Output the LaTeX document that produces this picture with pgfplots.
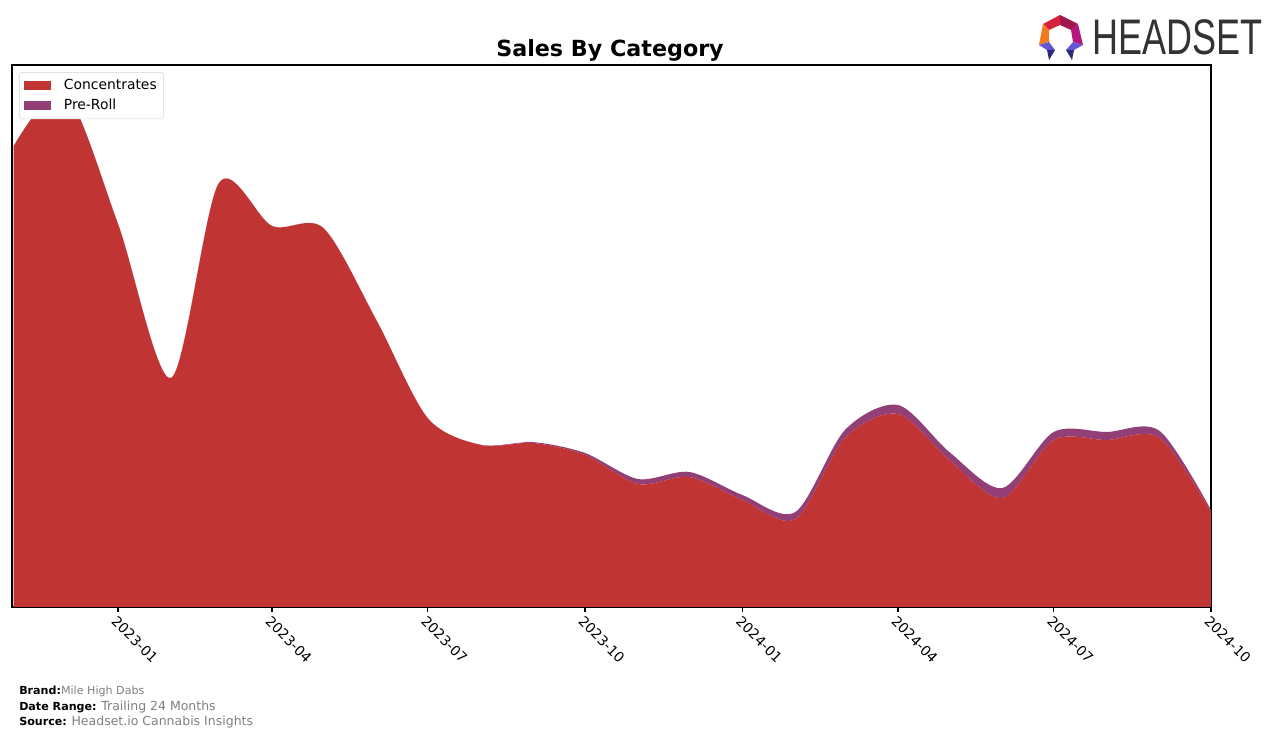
\documentclass[border=0pt]{standalone}
\usepackage{pgfplots}
\pgfplotsset{compat=1.18}
\usepackage{fontspec}
\setmainfont{DejaVu Sans}
\newfontfamily\logofont{Liberation Sans}
\definecolor{conc}{HTML}{C13434}
\definecolor{preroll}{HTML}{923F77}
\definecolor{footgray}{HTML}{808080}
\definecolor{logogray}{HTML}{333333}
\definecolor{legframe}{HTML}{D5D5D5}
\definecolor{lgA}{HTML}{D4213D}
\definecolor{lgB}{HTML}{A3154D}
\definecolor{lgC}{HTML}{F47A20}
\definecolor{lgD}{HTML}{B5177C}
\definecolor{lgE}{HTML}{6655D6}
\definecolor{lgF}{HTML}{2E2A7A}

\pgfplotstableread{
d conc pre
0   461 0
30  514 0
61  383 0
92  229 0
120 424 0
151 381 0
181 379 0
212 287 0
242 189 0
273 162 0.3
304 164 0.8
334 152 2
365 123 5
395 130 5
426 107 5
457 88 7
486 169 8
517 193 9
547 147 8
578 109 10
608 167 8
639 167 8
670 169 7
700 95 2
}\salesdata

\begin{document}
\begin{tikzpicture}[x=0.72bp,y=0.72bp]
\path[use as bounding box] (0,0) rectangle (1276,738);
\begin{axis}[
  at={(7,131)}, anchor=south west,
  scale only axis, width=863.28bp, height=390.24bp,
  xmin=-1, xmax=700, ymin=0, ymax=542,
  stack plots=y,
  axis line style={line width=0.8bp},
  xtick={61,151,242,334,426,517,608,700},
  xticklabels={2023-01,2023-04,2023-07,2023-10,2024-01,2024-04,2024-07,2024-10},
  ytick=\empty,
  tick pos=left,
  tick align=outside, major tick length=3.5bp,
  xtick style={line width=0.8bp, black},
  xticklabel style={rotate=-45, anchor=north west, font=\fontsize{10bp}{12bp}\selectfont, inner sep=1.5bp},
  legend style={at={(0.006,0.987)}, anchor=north west, font=\fontsize{10bp}{12bp}\selectfont,
    draw=legframe, rounded corners=2bp, inner xsep=3bp, inner ysep=3bp, row sep=1.5bp},
  legend cell align=left,
  legend image code/.code={\path[#1,draw=none,sharp corners] (0bp,-3.5bp) rectangle (19.5bp,3.5bp); \path (27bp,0bp);},
]
\addplot[draw=none, fill=conc, smooth] table[x=d, y=conc] {\salesdata} \closedcycle;
\addlegendentry{Concentrates}
\addplot[draw=none, fill=preroll, smooth] table[x=d, y=pre] {\salesdata} \closedcycle;
\addlegendentry{Pre-Roll}
\end{axis}

\node[anchor=base, font=\fontsize{16bp}{19bp}\selectfont\bfseries] at (610,681) {Sales By Category};

\node[anchor=base west, inner sep=0, font=\fontsize{8bp}{10bp}\selectfont] at (19,44) {\textbf{Brand:}\textcolor{footgray}{Mile High Dabs}};
\node[anchor=base west, inner sep=0, font=\fontsize{8bp}{10bp}\selectfont] at (19,28) {\textbf{Date Range:} \textcolor{footgray}{\fontsize{9bp}{10bp}\selectfont Trailing 24 Months}};
\node[anchor=base west, inner sep=0, font=\fontsize{8bp}{10bp}\selectfont] at (19,13) {\textbf{Source:} \textcolor{footgray}{\fontsize{9bp}{10bp}\selectfont Headset.io Cannabis Insights}};

% logo
\fill[lgA] (1043,714) -- (1060,723) -- (1060,713) -- (1049,708) -- cycle;
\fill[lgB] (1060,723) -- (1078,714) -- (1071,708) -- (1060,713) -- cycle;
\fill[lgC] (1043,714) -- (1049,708) -- (1049,696) -- (1039,693) -- cycle;
\fill[lgD] (1078,714) -- (1083,693) -- (1073,696) -- (1071,708) -- cycle;
\fill[lgE] (1039,693) -- (1049,696) -- (1055,688) -- (1047,688) -- cycle;
\fill[lgF] (1047,688) -- (1055,688) -- (1049,678) -- cycle;
\fill[lgE] (1083,693) -- (1073,696) -- (1066,688) -- (1074,688) -- cycle;
\fill[lgF] (1066,688) -- (1074,688) -- (1072,678) -- cycle;
\node[anchor=base west, inner sep=0, text=logogray, xscale=0.72, font=\fontsize{36bp}{40bp}\logofont\selectfont] at (1092,683) {HEADSET};
\end{tikzpicture}
\end{document}
